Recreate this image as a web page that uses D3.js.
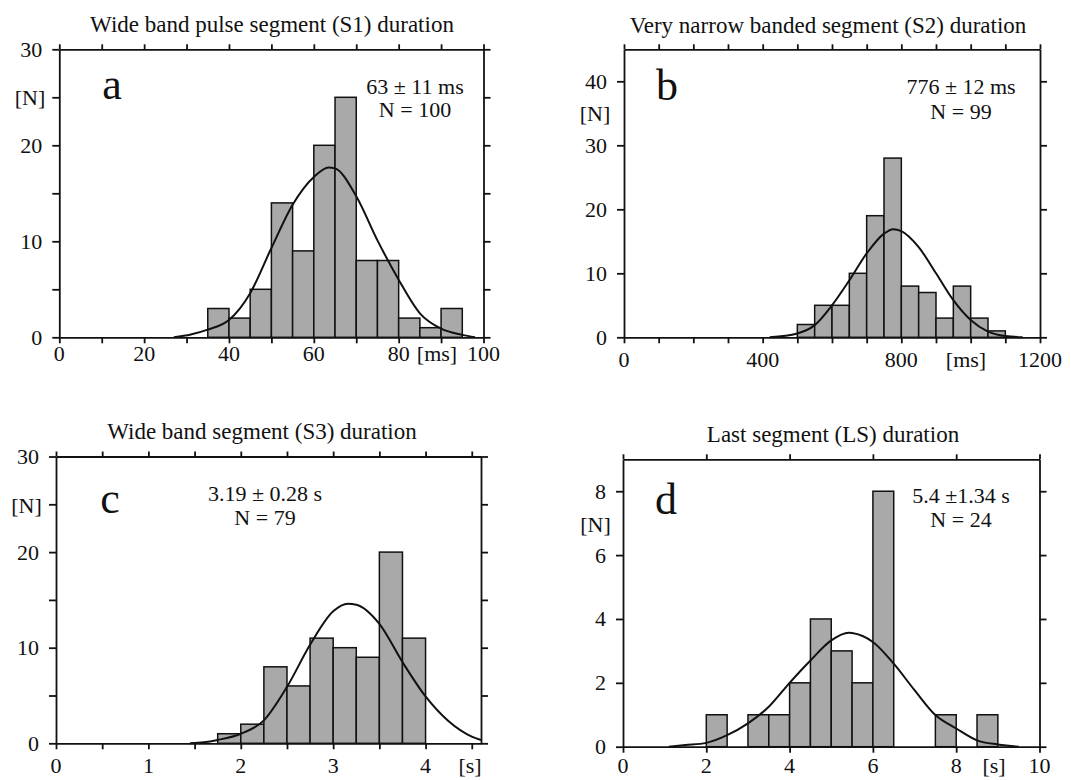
<!DOCTYPE html>
<html>
<head>
<meta charset="utf-8">
<script src="https://cdn.jsdelivr.net/npm/d3@7"></script>
<style>
  body { margin: 0; background: #fff; }
  svg { display: block; }
  text { font-family: "Liberation Serif", "DejaVu Serif", serif; fill: #111; }
</style>
</head>
<body>
<svg id="chart" width="1071" height="780"></svg>
<script>
  //
  // Data
  //
  // a: S1 duration, bins of 5 ms
  var binsA = [35, 40, 45, 50, 55, 60, 65, 70, 75, 80, 85, 90]
  var countsA = [3, 2, 5, 14, 9, 20, 25, 8, 8, 2, 1, 3]
  var fitXA = [27, 31, 35, 40, 45, 50, 55, 60, 63.5, 65, 70, 75, 80, 85, 90, 95, 98]
  var fitYA = [0, 0.3, 0.8, 1.8, 4.6, 9.3, 13.8, 16.7, 17.7, 17.6, 14.7, 10.1, 6.0, 2.5, 0.9, 0.25, 0]

  // b: S2 duration, bins of 50 ms
  var binsB = [500, 550, 600, 650, 700, 750, 800, 850, 900, 950, 1000, 1050]
  var countsB = [2, 5, 5, 10, 19, 28, 8, 7, 3, 8, 3, 1]
  var fitXB = [420, 500, 550, 600, 650, 700, 750, 776, 800, 850, 900, 950, 1000, 1050, 1100, 1150]
  var fitYB = [0, 0.6, 1.9, 5.0, 8.9, 13.1, 16.2, 16.9, 16.6, 14.1, 10.0, 5.8, 2.7, 0.9, 0.2, 0]

  // c: S3 duration, bins of 0.25 s
  var binsC = [1.75, 2, 2.25, 2.5, 2.75, 3, 3.25, 3.5, 3.75]
  var countsC = [1, 2, 8, 6, 11, 10, 9, 20, 11]
  var fitXC = [1.45, 1.6, 1.75, 2.0, 2.25, 2.5, 2.75, 3.0, 3.16, 3.25, 3.5, 3.75, 4.0, 4.25, 4.5, 4.6]
  var fitYC = [0, 0.1, 0.35, 1.0, 2.4, 5.9, 10.3, 13.8, 14.6, 14.5, 12.5, 8.5, 4.9, 2.3, 0.7, 0.35]

  // d: LS duration, bins of 0.5 s
  var binsD = [2, 3, 3.5, 4, 4.5, 5, 5.5, 6, 7.5, 8.5]
  var countsD = [1, 1, 1, 2, 4, 3, 2, 8, 1, 1]
  var fitXD = [1.1, 1.5, 2.0, 2.5, 3.0, 3.5, 4.0, 4.5, 5.0, 5.42, 5.5, 6.0, 6.5, 7.0, 7.5, 8.0, 8.5, 9.0, 9.5]
  var fitYD = [0, 0.05, 0.12, 0.36, 0.73, 1.25, 2.0, 2.7, 3.33, 3.57, 3.56, 3.28, 2.6, 1.77, 0.99, 0.57, 0.2, 0.07, 0]

  // tick labels
  var xLabelsA = [0, 20, 40, 60, 80, 100]
  var yLabelsA = [0, 10, 20, 30]
  var xLabelsB = [0, 400, 800, 1200]
  var yLabelsB = [0, 10, 20, 30, 40]
  var xLabelsC = [0, 1, 2, 3, 4]
  var yLabelsC = [0, 10, 20, 30]
  var xLabelsD = [0, 2, 4, 6, 8, 10]
  var yLabelsD = [0, 2, 4, 6, 8]

  var titles = [
    'Wide band pulse segment (S1) duration',
    'Very narrow banded segment (S2) duration',
    'Wide band segment (S3) duration',
    'Last segment (LS) duration'
  ]
  var letters = ['a', 'b', 'c', 'd']
  var stats = [
    ['63 \u00b1 11 ms', 'N = 100'],
    ['776 \u00b1 12 ms', 'N = 99'],
    ['3.19 \u00b1 0.28 s', 'N = 79'],
    ['5.4 \u00b11.34 s', 'N = 24']
  ]
  var units = ['[ms]', '[ms]', '[s]', '[s]']

  //
  // Layout
  //
  var colorBar = '#a9a9a9'
  var svg = d3.select('#chart')

  var panels = [
    { bins: binsA, counts: countsA, bw: 5, fx: fitXA, fy: fitYA,
      xd: [0, 100], yd: [0, 30], xr: [59.3, 483.5], yr: [337.3, 49.3],
      xt: d3.range(0, 101, 10), yt: d3.range(0, 31, 5), xl: xLabelsA, yl: yLabelsA,
      title: [272, 32], letter: [112, 99], stat: [415, 94, 117], n: [30, 105],
      unit: [437, 360.5], xlab: 360.5 },
    { bins: binsB, counts: countsB, bw: 50, fx: fitXB, fy: fitYB,
      xd: [0, 1200], yd: [0, 45], xr: [624, 1040], yr: [337.3, 49.3],
      xt: d3.range(0, 1201, 100), yt: d3.range(0, 41, 10), xl: xLabelsB, yl: yLabelsB,
      title: [828, 33], letter: [667, 99.5], stat: [961, 94, 119], n: [595, 121],
      unit: [966, 366.5], xlab: 366.5 },
    { bins: binsC, counts: countsC, bw: 0.25, fx: fitXC, fy: fitYC,
      xd: [0, 4.6], yd: [0, 30], xr: [56, 481], yr: [743.3, 456.5],
      xt: d3.range(0, 4.51, 0.5), yt: d3.range(0, 31, 5), xl: xLabelsC, yl: yLabelsC,
      title: [262, 439], letter: [110, 513], stat: [265, 501, 525], n: [26.5, 513],
      unit: [470, 773], xlab: 773 },
    { bins: binsD, counts: countsD, bw: 0.5, fx: fitXD, fy: fitYD,
      xd: [0, 10], yd: [0, 9], xr: [623, 1039.5], yr: [746.7, 459.3],
      xt: d3.range(0, 11, 2), yt: d3.range(0, 9, 2), xl: xLabelsD, yl: yLabelsD,
      title: [833, 442], letter: [666, 514], stat: [961, 503, 527], n: [595.5, 532],
      unit: [994, 773], xlab: 773 }
  ]

  panels.forEach(function (p, i) {
    var x = d3.scaleLinear().domain(p.xd).range(p.xr)
    var y = d3.scaleLinear().domain(p.yd).range(p.yr)
    var g = svg.append('g')

    // bars
    g.selectAll('rect.bar')
      .data(p.bins.map(function (b, j) { return { x0: b, x1: b + p.bw, n: p.counts[j] } }))
      .enter().append('rect')
      .attr('class', 'bar')
      .attr('x', function (d) { return x(d.x0) })
      .attr('width', function (d) { return x(d.x1) - x(d.x0) })
      .attr('y', function (d) { return y(d.n) })
      .attr('height', function (d) { return y(0) - y(d.n) })
      .attr('fill', colorBar)
      .attr('stroke', '#111')
      .attr('stroke-width', 1.5)

    // fitted curve
    var line = d3.line()
      .x(function (d) { return x(d[0]) })
      .y(function (d) { return y(d[1]) })
      .curve(d3.curveMonotoneX)
    g.append('path')
      .datum(p.fx.map(function (v, j) { return [v, p.fy[j]] }))
      .attr('d', line)
      .attr('fill', 'none')
      .attr('stroke', '#111')
      .attr('stroke-width', 2)

    // frame with ticks on all four sides
    function frame(axis, tx, ty) {
      var a = g.append('g').attr('transform', 'translate(' + tx + ',' + ty + ')').call(axis)
      a.selectAll('text').remove()
      a.selectAll('path, line').attr('stroke', '#111').attr('stroke-width', 1.8)
    }
    frame(d3.axisBottom(x).tickValues(p.xt).tickSize(6).tickSizeOuter(0), 0, p.yr[0])
    frame(d3.axisTop(x).tickValues(p.xt).tickSize(5).tickSizeOuter(0), 0, p.yr[1])
    frame(d3.axisLeft(y).tickValues(p.yt).tickSize(7).tickSizeOuter(0), p.xr[0], 0)
    frame(d3.axisRight(y).tickValues(p.yt).tickSize(7).tickSizeOuter(0), p.xr[1], 0)

    // tick labels
    g.selectAll('text.xl').data(p.xl).enter().append('text')
      .attr('x', function (d) { return x(d) })
      .attr('y', p.xlab)
      .attr('text-anchor', 'middle')
      .style('font-size', '22px')
      .text(function (d) { return d })
    g.selectAll('text.yl').data(p.yl).enter().append('text')
      .attr('x', p.xr[0] - 17)
      .attr('y', function (d) { return y(d) + 7.5 })
      .attr('text-anchor', 'end')
      .style('font-size', '22px')
      .text(function (d) { return d })

    // titles and annotations
    g.append('text').attr('x', p.title[0]).attr('y', p.title[1])
      .attr('text-anchor', 'middle').style('font-size', '23px').text(titles[i])
    g.append('text').attr('x', p.letter[0]).attr('y', p.letter[1])
      .attr('text-anchor', 'middle').style('font-size', '44px').text(letters[i])
    g.append('text').attr('x', p.stat[0]).attr('y', p.stat[1])
      .attr('text-anchor', 'middle').style('font-size', '22px').text(stats[i][0])
    g.append('text').attr('x', p.stat[0]).attr('y', p.stat[2])
      .attr('text-anchor', 'middle').style('font-size', '22px').text(stats[i][1])
    g.append('text').attr('x', p.n[0]).attr('y', p.n[1])
      .attr('text-anchor', 'middle').style('font-size', '22px').text('[N]')
    g.append('text').attr('x', p.unit[0]).attr('y', p.unit[1])
      .attr('text-anchor', 'middle').style('font-size', '22px').text(units[i])
  })
</script>
</body>
</html>
